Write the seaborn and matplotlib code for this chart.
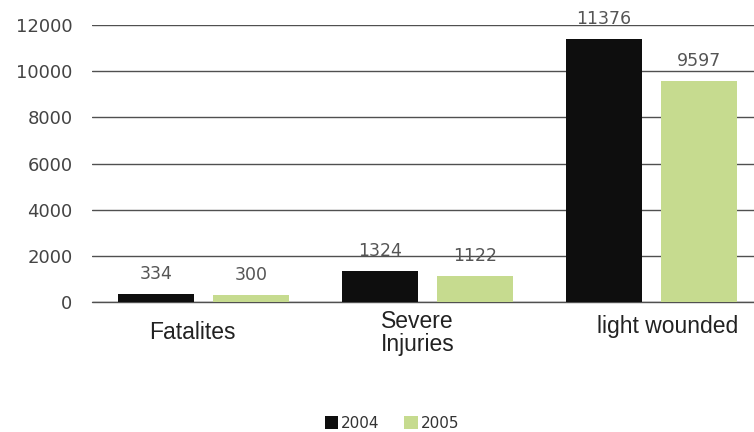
import matplotlib
matplotlib.use("Agg")
import matplotlib.pyplot as plt
from matplotlib.patches import Patch
import pandas as pd
import seaborn as sns

# Road accident casualties by severity, 2004 vs 2005
categories = ["Fatalites", "Severe\nInjuries", "light wounded"]
years = ["2004", "2005"]
values_2004 = [334, 1324, 11376]
values_2005 = [300, 1122, 9597]
y_ticks = [0, 2000, 4000, 6000, 8000, 10000, 12000]

colors = {"2004": "#0e0e0e", "2005": "#c6db8f"}

df = pd.DataFrame({
    "category": categories * 2,
    "year": [years[0]] * 3 + [years[1]] * 3,
    "count": values_2004 + values_2005,
})

sns.set_theme(style="white")
plt.rcParams["font.family"] = ["DejaVu Sans"]

fig = plt.figure(figsize=(7.54, 4.32), dpi=100)
ax = fig.add_axes([0.122, 0.301, 0.878, 0.641])

sns.barplot(data=df, x="category", y="count", hue="year", order=categories,
            hue_order=years, palette=colors, width=0.85, gap=0.2,
            saturation=1, linewidth=0, legend=False, ax=ax, zorder=3)

ax.set_xlim(-0.5, 2.46)
ax.set_ylim(0, 12000)
ax.set_yticks(y_ticks)
ax.set_yticklabels([str(t) for t in y_ticks], fontsize=13, color="#444444")
ax.tick_params(axis="y", length=0, pad=14)
ax.yaxis.grid(True, color="#505050", linewidth=1)
ax.set_axisbelow(True)
for s in ax.spines.values():
    s.set_visible(False)
ax.axhline(0, color="#505050", linewidth=1, zorder=2, clip_on=False)
ax.set_xlabel("")
ax.set_ylabel("")

# value labels above each bar
for cont, vals in zip(ax.containers, [values_2004, values_2005]):
    for bar, v in zip(cont, vals):
        ax.annotate(str(v), xy=(bar.get_x() + bar.get_width() / 2, v),
                    xytext=(0, 20), textcoords="offset pixels",
                    ha="center", va="center", fontsize=12.5, color="#555555")

# category labels under the groups
ax.set_xticks(range(len(categories)))
ax.set_xticklabels([])
ax.tick_params(axis="x", length=0)
label_offsets = [(-11, -31), (-10, -31), (17, -25)]
for i, (cat, (dx, dy)) in enumerate(zip(categories, label_offsets)):
    ax.annotate(cat, xy=(i, 0), xycoords=ax.get_xaxis_transform(),
                xytext=(dx, dy), textcoords="offset pixels",
                ha="center", va="center", fontsize=16.5, color="#222222",
                family=["Liberation Sans"], linespacing=1.05)

handles = [Patch(facecolor=colors[y], edgecolor="none", label=y) for y in years]
fig.legend(handles=handles, loc="center", bbox_to_anchor=(0.52, 1 - 423 / 432),
           ncol=2, frameon=False, fontsize=11, handlelength=0.9,
           handleheight=0.9, handletextpad=0.2, columnspacing=1.6,
           labelcolor="#333333")

fig.savefig("out.png", dpi=100)
